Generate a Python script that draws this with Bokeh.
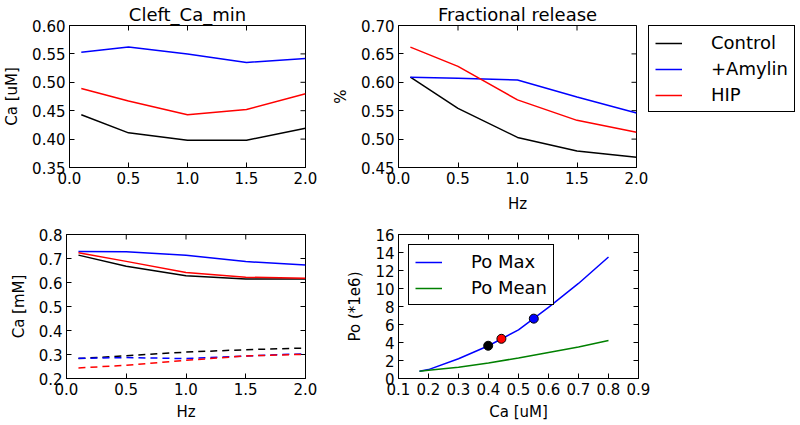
import math
from bokeh.plotting import figure
from bokeh.models import (Range1d, LinearAxis, FixedTicker, NumeralTickFormatter,
                          Legend, LegendItem, Title)
from bokeh.layouts import column, row
from bokeh.embed import file_html
from bokeh.resources import INLINE

FONT = "DejaVu Sans"

# ---------------- data ----------------
hz = [0.1, 0.5, 1.0, 1.5, 2.0]

cleft_min_control = [0.443, 0.411, 0.398, 0.398, 0.419]
cleft_min_amylin = [0.553, 0.562, 0.550, 0.535, 0.542]
cleft_min_hip = [0.489, 0.467, 0.443, 0.452, 0.480]

frac_control = [0.609, 0.554, 0.503, 0.479, 0.468]
frac_amylin = [0.609, 0.607, 0.604, 0.574, 0.546]
frac_hip = [0.662, 0.628, 0.569, 0.533, 0.512]

sr_control = [0.714, 0.668, 0.628, 0.615, 0.615]
sr_amylin = [0.729, 0.728, 0.714, 0.687, 0.673]
sr_hip = [0.724, 0.688, 0.642, 0.622, 0.618]

sr2_control = [0.283, 0.295, 0.310, 0.320, 0.327]
sr2_amylin = [0.284, 0.287, 0.283, 0.294, 0.303]
sr2_hip = [0.244, 0.255, 0.276, 0.294, 0.301]

ca_curve = [0.17, 0.2, 0.3, 0.4, 0.5, 0.6, 0.7, 0.8]
po_max = [0.80, 0.99, 2.2, 3.64, 5.4, 7.9, 10.56, 13.5]
po_mean = [0.80, 0.92, 1.25, 1.73, 2.28, 2.9, 3.5, 4.23]

dot_ca = [0.399, 0.443, 0.551]
dot_po = [3.64, 4.41, 6.65]
dot_colors = ["black", "red", "blue"]

series_names = ["Control", "+Amylin", "HIP"]
series_colors = ["black", "blue", "red"]

hz_ticks = [0.0, 0.5, 1.0, 1.5, 2.0]
cleft_ticks = [0.35, 0.40, 0.45, 0.50, 0.55, 0.60]
frac_ticks = [0.45, 0.50, 0.55, 0.60, 0.65, 0.70]
sr_ticks = [0.2, 0.3, 0.4, 0.5, 0.6, 0.7, 0.8]
ca_ticks = [0.1, 0.2, 0.3, 0.4, 0.5, 0.6, 0.7, 0.8, 0.9]
po_ticks = [0, 2, 4, 6, 8, 10, 12, 14, 16]

TICK_LEN = 5


def style_axis(ax, ticks, fmt):
    ax.ticker = FixedTicker(ticks=ticks, minor_ticks=[])
    ax.formatter = NumeralTickFormatter(format=fmt)
    ax.axis_line_color = "black"
    ax.axis_line_width = 1
    ax.major_tick_line_color = "black"
    ax.major_tick_in = TICK_LEN
    ax.major_tick_out = 0
    ax.minor_tick_line_color = None
    ax.major_label_text_font = FONT
    ax.major_label_text_color = "black"
    ax.major_label_text_font_size = "15px"
    ax.major_label_standoff = 4
    ax.axis_label_text_font = FONT
    ax.axis_label_text_font_size = "15px"
    ax.axis_label_text_font_style = "normal"
    ax.axis_label_text_color = "black"
    ax.axis_label_standoff = 8


def make_fig(width, height, xr, yr, xticks, yticks, xfmt, yfmt, border):
    left, right, top, bottom = border
    p = figure(width=width, height=height, x_range=Range1d(*xr), y_range=Range1d(*yr),
               x_axis_type=None, y_axis_type=None,
               output_backend="svg", toolbar_location=None,
               min_border_left=left, min_border_right=right,
               min_border_top=top, min_border_bottom=bottom)
    p.outline_line_color = "black"
    p.outline_line_alpha = 1
    p.outline_line_width = 1
    p.background_fill_color = "white"
    p.border_fill_color = "white"
    bx = LinearAxis(); style_axis(bx, xticks, xfmt); p.add_layout(bx, "below")
    ly = LinearAxis(); style_axis(ly, yticks, yfmt); p.add_layout(ly, "left")
    p.xgrid.visible = False
    p.ygrid.visible = False
    # mirrored inward ticks on the top and right frame edges (half clipped by the frame)
    p.scatter(xticks, [yr[1]] * len(xticks), marker="dash", angle=math.pi / 2,
              size=2 * TICK_LEN, line_color="black", line_width=1)
    p.scatter([xr[1]] * len(yticks), yticks, marker="dash", angle=0,
              size=2 * TICK_LEN, line_color="black", line_width=1)
    return p, bx, ly


def style_legend(lg, margin):
    lg.label_text_font = FONT
    lg.label_text_font_size = "18px"
    lg.label_text_color = "black"
    lg.border_line_color = "black"
    lg.border_line_width = 1
    lg.border_line_alpha = 1
    lg.background_fill_color = "white"
    lg.background_fill_alpha = 1
    lg.glyph_width = 27
    lg.glyph_height = 20
    lg.label_height = 20
    lg.label_standoff = 29
    lg.padding = 6
    lg.spacing = 5
    lg.margin = margin


def add_title(p, text):
    p.add_layout(Title(text=text, align="center", text_font=FONT, text_font_size="18px",
                       text_font_style="normal", text_color="black", standoff=2), "above")


LW = 1.5
H1 = 218
H2 = 205

# ---------- top-left: Cleft_Ca_min ----------
p1, p1x, p1y = make_fig(326, H1, (0, 2), (0.35, 0.60), hz_ticks, cleft_ticks,
                        "0.0", "0.00", (66, 21, 23, 51))
p1y.axis_label = "Ca [uM]"
for ys, c in zip([cleft_min_control, cleft_min_amylin, cleft_min_hip], series_colors):
    p1.line(hz, ys, line_color=c, line_width=LW)
add_title(p1, "Cleft_Ca_min")

# ---------- top-right: Fractional release ----------
p2, p2x, p2y = make_fig(322, H1, (0, 2), (0.45, 0.70), hz_ticks, frac_ticks,
                        "0.0", "0.00", (72, 12, 23, 51))
p2y.axis_label = "%"
p2x.axis_label = "Hz"
for ys, c in zip([frac_control, frac_amylin, frac_hip], series_colors):
    p2.line(hz, ys, line_color=c, line_width=LW)
add_title(p2, "Fractional release")

# ---------- legend panel (top right) ----------
# the legend's own copies of the series lie outside this panel's (empty) view,
# so only their legend swatches are seen
pl = figure(width=149, height=H1, x_range=Range1d(10, 11), y_range=Range1d(10, 11),
            x_axis_type=None, y_axis_type=None, output_backend="svg",
            toolbar_location=None, min_border_left=0, min_border_right=0,
            min_border_top=17, min_border_bottom=0, outline_line_color=None)
pl.xgrid.visible = False
pl.ygrid.visible = False
lrs = [pl.line(hz, ys, line_color=c, line_width=LW)
       for ys, c in zip([frac_control, frac_amylin, frac_hip], series_colors)]
leg = Legend(items=[LegendItem(label=n, renderers=[r]) for n, r in zip(series_names, lrs)],
             location="top_left")
style_legend(leg, 0)
pl.add_layout(leg)

# ---------- bottom-left: SR Ca ----------
p3, p3x, p3y = make_fig(326, H2, (0, 2), (0.2, 0.8), hz_ticks, sr_ticks,
                        "0.0", "0.0", (66, 21, 16, 44))
p3y.axis_label = "Ca [mM]"
p3x.axis_label = "Hz"
p3x.axis_label_standoff = 5
for ys, c in zip([sr_control, sr_amylin, sr_hip], series_colors):
    p3.line(hz, ys, line_color=c, line_width=LW)
for ys, c in zip([sr2_control, sr2_amylin, sr2_hip], series_colors):
    p3.line(hz, ys, line_color=c, line_width=LW, line_dash="7 5")

# ---------- bottom-right: Po ----------
p4, p4x, p4y = make_fig(330, H2, (0.1, 0.9), (0, 16), ca_ticks, po_ticks,
                        "0.0", "0", (72, 18, 16, 44))
p4y.axis_label = "Po (*1e6)"
p4x.axis_label = "Ca [uM]"
p4x.axis_label_standoff = 5
rmax = p4.line(ca_curve, po_max, line_color="blue", line_width=LW)
rmean = p4.line(ca_curve, po_mean, line_color="#008000", line_width=LW)
p4.scatter(dot_ca, dot_po, size=9, fill_color=dot_colors, line_color="black", line_width=1)
leg2 = Legend(items=[LegendItem(label="Po Max", renderers=[rmax]),
                     LegendItem(label="Po Mean", renderers=[rmean])],
              location="top_left")
style_legend(leg2, 10)
p4.add_layout(leg2)

layout = column(row(p1, p2, pl, spacing=0), row(p3, p4, spacing=0), spacing=0)

open("out.html", "w").write(file_html(layout, INLINE))
